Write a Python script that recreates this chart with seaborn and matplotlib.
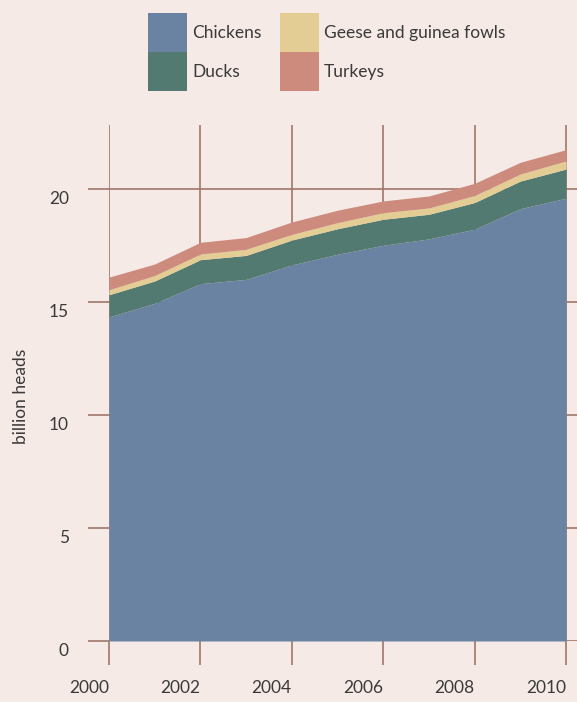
import matplotlib
matplotlib.use("Agg")
import matplotlib.pyplot as plt
from matplotlib.patches import Patch
from matplotlib.transforms import ScaledTranslation
import seaborn as sns
import pandas as pd

# Poultry stocks, billion heads
years = list(range(2000, 2011))
chickens = [14.34, 14.94, 15.81, 16.00, 16.64, 17.11, 17.51, 17.79, 18.22, 19.13, 19.59]
ducks = [0.98, 0.99, 1.06, 1.06, 1.10, 1.13, 1.15, 1.09, 1.18, 1.22, 1.29]
geese = [0.22, 0.24, 0.25, 0.27, 0.25, 0.27, 0.29, 0.28, 0.31, 0.31, 0.36]
turkeys = [0.56, 0.51, 0.52, 0.52, 0.55, 0.55, 0.52, 0.53, 0.54, 0.52, 0.50]

species = ["Chickens", "Ducks", "Geese and guinea fowls", "Turkeys"]
colors = ["#6a83a2", "#527a70", "#e3cd94", "#cd8b7e"]
x_ticks = [2000, 2002, 2004, 2006, 2008, 2010]
y_ticks = [0, 5, 10, 15, 20]

bg = "#f5eae6"
grid_col = "#a07668"
ink = "#3a3a3a"

df = pd.DataFrame({"year": years, "Chickens": chickens, "Ducks": ducks,
                   "Geese and guinea fowls": geese, "Turkeys": turkeys})

sns.set_theme(style="white", rc={"axes.facecolor": bg, "figure.facecolor": bg})
plt.rcParams["font.family"] = ["Lato", "DejaVu Sans"]

fig = plt.figure(figsize=(5.77, 7.02), dpi=100)
ax = fig.add_axes([109 / 577, 1 - 641 / 702, 1 - 109 / 577, (641 - 125) / 702])

ax.stackplot(df["year"], [df[s] for s in species], colors=colors,
             linewidth=0, labels=species)

ax.set_xlim(2000, 2010.24)
ax.set_ylim(0, 22.83)
ax.set_xticks(x_ticks)
ax.set_yticks(y_ticks)
ax.grid(True, color=grid_col, linewidth=1.2)
ax.set_axisbelow(True)
sns.despine(ax=ax, left=True, bottom=True)

fs = 12.5
ax.tick_params(axis="x", which="major", direction="out", length=17, width=1.2,
               color=grid_col, pad=11, labelsize=fs, labelcolor=ink, bottom=True)
ax.tick_params(axis="y", which="major", direction="out", length=15, width=1.2,
               color=grid_col, pad=14, labelsize=fs, labelcolor=ink, left=True)
for lab in ax.get_xticklabels():
    lab.set_horizontalalignment("right")
shift = ScaledTranslation(0, -9 / 100, fig.dpi_scale_trans)
for lab in ax.get_yticklabels():
    lab.set_transform(lab.get_transform() + shift)

ax.set_ylabel("billion heads", fontsize=12.5, color=ink)
ax.yaxis.set_label_coords(-0.172, 0.475)

handles = [Patch(facecolor=c, linewidth=0, label=s) for c, s in zip(colors, species)]
fig.legend(handles=handles, loc="upper left", bbox_to_anchor=(148 / 577, 1 - 13 / 702),
           bbox_transform=fig.transFigure, ncol=2, frameon=False, fontsize=fs,
           handlelength=2.25, handleheight=3.08, labelspacing=0, handletextpad=0.29,
           columnspacing=1.04, borderpad=0, borderaxespad=0, labelcolor=ink)

fig.savefig("out.png", dpi=100, facecolor=bg)
